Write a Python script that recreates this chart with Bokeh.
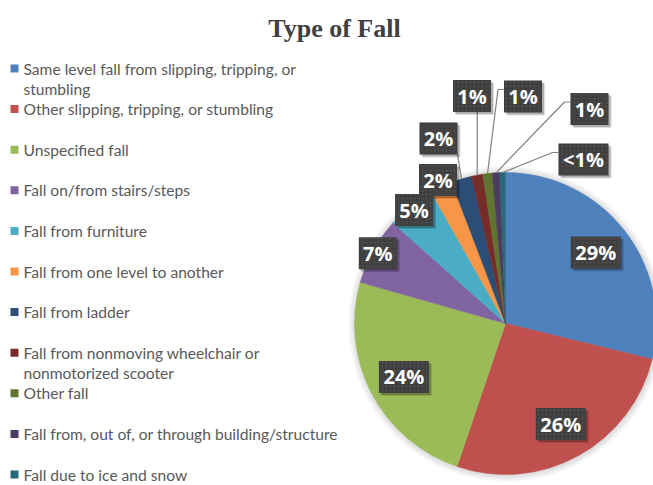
import math
import numpy as np
from bokeh.plotting import figure
from bokeh.models import Range1d, ColumnDataSource
from bokeh.core.properties import value
from bokeh.embed import file_html
from bokeh.resources import INLINE

# ---------------- data ----------------
title = "Type of Fall"
categories = [
    "Same level fall from slipping, tripping, or\nstumbling",
    "Other slipping, tripping, or stumbling",
    "Unspecified fall",
    "Fall on/from stairs/steps",
    "Fall from furniture",
    "Fall from one level to another",
    "Fall from ladder",
    "Fall from nonmoving wheelchair or\nnonmotorized scooter",
    "Other fall",
    "Fall from, out of, or through building/structure",
    "Fall due to ice and snow",
]
shares = [28.8, 26.4, 24.2, 7.2, 5.2, 2.4, 2.2, 1.2, 1.0, 0.8, 0.6]
pct_labels = ["29%", "26%", "24%", "7%", "5%", "2%", "2%", "1%", "1%", "1%", "<1%"]
colors = ["#4F81BD", "#C0504D", "#9BBB59", "#8064A2", "#4BACC6", "#F79646",
          "#2C4D75", "#772C2A", "#5F7530", "#4D3B62", "#276A7C"]

# ---------------- layout ----------------
W, H = 653, 485


def X(px):
    return px


def Y(py):
    return H - py


cx, cy, R = X(505), Y(323), 151

p = figure(width=W, height=H, x_range=Range1d(0, W), y_range=Range1d(0, H),
           output_backend="svg", toolbar_location=None, min_border=0)
p.axis.visible = False
p.grid.visible = False
p.outline_line_color = None
p.background_fill_color = "white"
p.border_fill_color = "white"

# title
p.text(x=[X(334)], y=[Y(28)], text=[title], text_font=value("Liberation Serif"),
       text_font_style="bold", text_font_size="26px", text_color="#404040",
       text_align="center", text_baseline="alphabetic")

# legend
LEG_FONT = value("Lato")
for i, (cat, col) in enumerate(zip(categories, colors)):
    row = 68 + 40.6 * i
    p.rect(x=[X(14)], y=[Y(row)], width=8, height=8, fill_color=col, line_color=None)
    for j, line in enumerate(cat.split("\n")):
        p.text(x=[X(23)], y=[Y(row + 20 * j)], text=[line], text_font=LEG_FONT,
               text_font_size="15.6px", text_color="#595959",
               text_align="left", text_baseline="middle")

# pie soft shadow
for k in range(1, 8):
    p.circle(x=[cx + 0.5], y=[cy - 0.5], radius=R + k, fill_color="black",
             fill_alpha=0.02, line_color=None)

total = float(sum(shares))
cum = np.concatenate([[0.0], np.cumsum(shares)]) / total
start = math.pi / 2 - 2 * math.pi * cum[1:]
end = math.pi / 2 - 2 * math.pi * cum[:-1]
mid = math.pi / 2 - math.pi * (cum[1:] + cum[:-1])

src = ColumnDataSource(dict(start=start, end=end, color=colors))
p.wedge(x=cx, y=cy, radius=R, start_angle="start", end_angle="end",
        fill_color="color", line_color="color", line_width=0.5, source=src)

# data labels
inner_frac = [0.76, 0.76, 0.76, 0.965, 0.965, 1.05]
leader_pos = {6: (438, 138), 7: (471.5, 95.5), 8: (522.5, 96),
              9: (589, 108.5), 10: (583, 159)}
BOX_H = 32

lx, ly, lw = [], [], []
for i, lab in enumerate(pct_labels):
    w = 12 * len(lab) + 14
    if i < len(inner_frac):
        f = inner_frac[i]
        x = cx + f * R * math.cos(mid[i])
        y = cy + f * R * math.sin(mid[i])
    else:
        px, py = leader_pos[i]
        x, y = X(px), Y(py)
        tx = cx + R * math.cos(mid[i])
        ty = cy + R * math.sin(mid[i])
        left, right = x - w / 2, x + w / 2
        top, bottom = y + BOX_H / 2, y - BOX_H / 2
        if i in (6, 7):
            ax = min(max(tx, left), right)
            xs, ys = [ax, tx], [bottom, ty]
        else:
            ay = top - 9
            xs, ys = [left, left - 6, tx], [ay, ay, ty]
        p.line(xs, ys, line_color="#808080", line_width=1.2)
    lx.append(x)
    ly.append(y)
    lw.append(w)

p.rect(x=[v + 3 for v in lx], y=[v - 3 for v in ly], width=lw, height=BOX_H,
       fill_color="black", fill_alpha=0.12, line_color=None)
p.rect(x=[v + 2 for v in lx], y=[v - 2 for v in ly], width=lw, height=BOX_H,
       fill_color="black", fill_alpha=0.22, line_color=None)
p.rect(x=lx, y=ly, width=lw, height=BOX_H, fill_color="#3f3f3f", line_color=None,
       hatch_pattern="dot", hatch_color="#5c5c5c", hatch_scale=4, hatch_weight=1,
       hatch_alpha=0.6)
p.text(x=lx, y=ly, text=pct_labels, text_font=value("Open Sans"),
       text_font_style="bold", text_font_size="20px", text_color="white",
       text_align="center", text_baseline="middle")

open("out.html", "w").write(file_html(p, INLINE))
